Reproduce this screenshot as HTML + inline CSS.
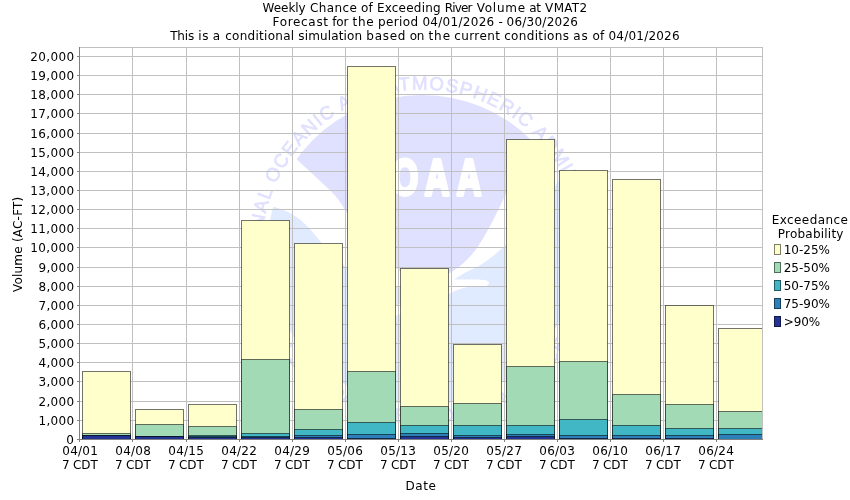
<!DOCTYPE html>
<html lang="en"><head><meta charset="utf-8"><title>Weekly Chance of Exceeding River Volume at VMAT2</title>
<style>html,body{margin:0;padding:0;background:#fff}body{width:850px;height:500px;overflow:hidden}svg{display:block}text{font-family:"DejaVu Sans","Liberation Sans",sans-serif;font-size:12px;fill:#000}</style></head><body>
<svg width="850" height="500" viewBox="0 0 850 500">
<rect width="850" height="500" fill="#fff"/>
<text y="11.7"><tspan x="262.50" textLength="43.23" lengthAdjust="spacing">Weekly</tspan> <tspan x="309.93" textLength="46.91" lengthAdjust="spacing">Chance</tspan> <tspan x="361.04" textLength="11.69" lengthAdjust="spacing">of</tspan> <tspan x="376.92" textLength="63.70" lengthAdjust="spacing">Exceeding</tspan> <tspan x="444.82" textLength="27.68" lengthAdjust="spacing">River</tspan> <tspan x="476.71" textLength="48.37" lengthAdjust="spacing">Volume</tspan> <tspan x="529.28" textLength="11.63" lengthAdjust="spacing">at</tspan> <tspan x="545.11" textLength="42.04" lengthAdjust="spacing">VMAT2</tspan></text>
<text y="25.7"><tspan x="272.62" textLength="55.40" lengthAdjust="spacing">Forecast</tspan> <tspan x="332.22" textLength="16.15" lengthAdjust="spacing">for</tspan> <tspan x="352.58" textLength="21.13" lengthAdjust="spacing">the</tspan> <tspan x="377.91" textLength="40.30" lengthAdjust="spacing">period</tspan> <tspan x="422.41" textLength="71.80" lengthAdjust="spacing">04/01/2026</tspan> <tspan x="498.41" textLength="4.33" lengthAdjust="spacing">-</tspan> <tspan x="506.51" textLength="71.46" lengthAdjust="spacing">06/30/2026</tspan></text>
<text y="39.7"><tspan x="170.24" textLength="23.93" lengthAdjust="spacing">This</tspan> <tspan x="198.37" textLength="10.21" lengthAdjust="spacing">is</tspan> <tspan x="212.78" textLength="7.35" lengthAdjust="spacing">a</tspan> <tspan x="225.24" textLength="68.91" lengthAdjust="spacing">conditional</tspan> <tspan x="298.35" textLength="63.76" lengthAdjust="spacing">simulation</tspan> <tspan x="366.31" textLength="39.13" lengthAdjust="spacing">based</tspan> <tspan x="409.64" textLength="14.64" lengthAdjust="spacing">on</tspan> <tspan x="428.48" textLength="21.56" lengthAdjust="spacing">the</tspan> <tspan x="454.24" textLength="45.70" lengthAdjust="spacing">current</tspan> <tspan x="504.14" textLength="64.84" lengthAdjust="spacing">conditions</tspan> <tspan x="573.18" textLength="14.61" lengthAdjust="spacing">as</tspan> <tspan x="592.54" textLength="11.77" lengthAdjust="spacing">of</tspan> <tspan x="608.51" textLength="71.06" lengthAdjust="spacing">04/01/2026</tspan></text>
<defs><clipPath id="pc"><rect x="80" y="48" width="682" height="391"/></clipPath><clipPath id="bc"><rect x="79" y="47" width="683" height="393"/></clipPath>
<clipPath id="disc"><circle cx="422" cy="250" r="155"/></clipPath>
<path id="ringTop" d="M 421.99 410.4 A 160.4 160.4 0 1 1 422.01 410.4" fill="none"/>
<path id="ringBot" d="M 248.5 250 A 173.5 173.5 0 0 0 595.5 250" fill="none"/>
</defs>
<g clip-path="url(#pc)">
<g clip-path="url(#disc)">
<path d="M 250 119.5 L 298.5 161 C 312 173.5 326 186 335 195.5 C 339 200 342 205 344.5 209 C 358 229 378 251 397 268.5 C 412 283 432 285 453 271 C 462 265 470 258 478 246.5 C 488 232 497 212 504 198 C 515 176 525 160 540 132 L 600 60 L 250 60 Z" fill="#e0e0ff"/>
<path d="M 250 200 L 273 206.5 C 285 210 293 214 300 219.6 C 308 226 315 235 321.6 243 C 329 252 337 260 345 266 C 361 277 380 284 397 286.5 C 412 288.5 428 288 440 286.5 C 428 293 412 300 397 305 C 388 308 379 313 371 319 C 380 318 389 316.5 397 315 C 415 311 437 299 455 291 C 462 288 466 287.5 470 286.8 C 480 287 489 287 489 283 C 489 279.5 480 279.5 470 279.5 L 454 279.5 C 462 274 470 270 478 266.5 C 486 262 496 254 504 246.5 C 525 226 545 200 562 176 L 600 176 L 600 420 L 250 420 Z" fill="#e1ebff"/>
</g>
<text transform="translate(0 194.8) scale(0.673 1)" x="554.23 601.78 649.33 696.88" text-anchor="middle" style="font-family:'Liberation Sans',sans-serif;font-weight:bold;font-size:50.5px;fill:#fff;stroke:#fff;stroke-width:4;stroke-linejoin:round">NOAA</text>
<text transform="rotate(0.9 422 250)" style="font-family:'Liberation Sans',sans-serif;font-size:18.8px;letter-spacing:1.26px;fill:#e0e0ff;stroke:#e0e0ff;stroke-width:0.6px"><textPath href="#ringTop" startOffset="50%" text-anchor="middle">NATIONAL OCEANIC AND ATMOSPHERIC ADMINISTRATION</textPath></text>
<text style="font-family:'Liberation Sans',sans-serif;font-size:18.8px;letter-spacing:1.18px;fill:#e0e0ff;stroke:#e0e0ff;stroke-width:0.6px"><textPath href="#ringBot" startOffset="50%" text-anchor="middle">U.S. DEPARTMENT OF COMMERCE</textPath></text>
</g>
<path d="M132.5 48V439M186.5 48V439M239.5 48V439M292.5 48V439M345.5 48V439M398.5 48V439M451.5 48V439M504.5 48V439M557.5 48V439M610.5 48V439M663.5 48V439M716.5 48V439M80 420.5H762M80 401.5H762M80 381.5H762M80 362.5H762M80 343.5H762M80 324.5H762M80 305.5H762M80 286.5H762M80 267.5H762M80 247.5H762M80 228.5H762M80 209.5H762M80 190.5H762M80 171.5H762M80 152.5H762M80 133.5H762M80 113.5H762M80 94.5H762M80 75.5H762M80 56.5H762" stroke="#c0c0c0" stroke-width="1" fill="none"/>
<path d="M79 47.5H763M762.5 47V440" stroke="#c0c0c0" stroke-width="1" fill="none"/>
<g clip-path="url(#bc)">
<rect x="82.5" y="371.5" width="48" height="68" fill="#ffffcc" stroke="#000" stroke-opacity="0.55" stroke-width="1"/>
<rect x="82.5" y="433.5" width="48" height="6" fill="#a1dab4" stroke="#000" stroke-opacity="0.55" stroke-width="1"/>
<rect x="82.5" y="435.5" width="48" height="4" fill="#41b6c4" stroke="#000" stroke-opacity="0.55" stroke-width="1"/>
<rect x="82.5" y="435.5" width="48" height="4" fill="#2c7fb8" stroke="#000" stroke-opacity="0.55" stroke-width="1"/>
<rect x="82.5" y="435.5" width="48" height="4" fill="#253494" stroke="#000" stroke-opacity="0.55" stroke-width="1"/>
<rect x="135.5" y="409.5" width="48" height="30" fill="#ffffcc" stroke="#000" stroke-opacity="0.55" stroke-width="1"/>
<rect x="135.5" y="424.5" width="48" height="15" fill="#a1dab4" stroke="#000" stroke-opacity="0.55" stroke-width="1"/>
<rect x="135.5" y="436.5" width="48" height="3" fill="#41b6c4" stroke="#000" stroke-opacity="0.55" stroke-width="1"/>
<rect x="135.5" y="436.5" width="48" height="3" fill="#2c7fb8" stroke="#000" stroke-opacity="0.55" stroke-width="1"/>
<rect x="135.5" y="436.5" width="48" height="3" fill="#253494" stroke="#000" stroke-opacity="0.55" stroke-width="1"/>
<rect x="188.5" y="404.5" width="48" height="35" fill="#ffffcc" stroke="#000" stroke-opacity="0.55" stroke-width="1"/>
<rect x="188.5" y="426.5" width="48" height="13" fill="#a1dab4" stroke="#000" stroke-opacity="0.55" stroke-width="1"/>
<rect x="188.5" y="435.5" width="48" height="4" fill="#41b6c4" stroke="#000" stroke-opacity="0.55" stroke-width="1"/>
<rect x="188.5" y="436.5" width="48" height="3" fill="#2c7fb8" stroke="#000" stroke-opacity="0.55" stroke-width="1"/>
<rect x="188.5" y="437.5" width="48" height="2" fill="#253494" stroke="#000" stroke-opacity="0.55" stroke-width="1"/>
<rect x="241.5" y="220.5" width="48" height="219" fill="#ffffcc" stroke="#000" stroke-opacity="0.55" stroke-width="1"/>
<rect x="241.5" y="359.5" width="48" height="80" fill="#a1dab4" stroke="#000" stroke-opacity="0.55" stroke-width="1"/>
<rect x="241.5" y="433.5" width="48" height="6" fill="#41b6c4" stroke="#000" stroke-opacity="0.55" stroke-width="1"/>
<rect x="241.5" y="436.5" width="48" height="3" fill="#2c7fb8" stroke="#000" stroke-opacity="0.55" stroke-width="1"/>
<rect x="241.5" y="437.5" width="48" height="2" fill="#253494" stroke="#000" stroke-opacity="0.55" stroke-width="1"/>
<rect x="294.5" y="243.5" width="48" height="196" fill="#ffffcc" stroke="#000" stroke-opacity="0.55" stroke-width="1"/>
<rect x="294.5" y="409.5" width="48" height="30" fill="#a1dab4" stroke="#000" stroke-opacity="0.55" stroke-width="1"/>
<rect x="294.5" y="429.5" width="48" height="10" fill="#41b6c4" stroke="#000" stroke-opacity="0.55" stroke-width="1"/>
<rect x="294.5" y="435.5" width="48" height="4" fill="#2c7fb8" stroke="#000" stroke-opacity="0.55" stroke-width="1"/>
<rect x="294.5" y="437.5" width="48" height="2" fill="#253494" stroke="#000" stroke-opacity="0.55" stroke-width="1"/>
<rect x="347.5" y="66.5" width="48" height="373" fill="#ffffcc" stroke="#000" stroke-opacity="0.55" stroke-width="1"/>
<rect x="347.5" y="371.5" width="48" height="68" fill="#a1dab4" stroke="#000" stroke-opacity="0.55" stroke-width="1"/>
<rect x="347.5" y="422.5" width="48" height="17" fill="#41b6c4" stroke="#000" stroke-opacity="0.55" stroke-width="1"/>
<rect x="347.5" y="434.5" width="48" height="5" fill="#2c7fb8" stroke="#000" stroke-opacity="0.55" stroke-width="1"/>
<rect x="347.5" y="438.5" width="48" height="1" fill="#253494" stroke="#000" stroke-opacity="0.55" stroke-width="1"/>
<rect x="400.5" y="268.5" width="48" height="171" fill="#ffffcc" stroke="#000" stroke-opacity="0.55" stroke-width="1"/>
<rect x="400.5" y="406.5" width="48" height="33" fill="#a1dab4" stroke="#000" stroke-opacity="0.55" stroke-width="1"/>
<rect x="400.5" y="425.5" width="48" height="14" fill="#41b6c4" stroke="#000" stroke-opacity="0.55" stroke-width="1"/>
<rect x="400.5" y="433.5" width="48" height="6" fill="#2c7fb8" stroke="#000" stroke-opacity="0.55" stroke-width="1"/>
<rect x="400.5" y="436.5" width="48" height="3" fill="#253494" stroke="#000" stroke-opacity="0.55" stroke-width="1"/>
<rect x="453.5" y="344.5" width="48" height="95" fill="#ffffcc" stroke="#000" stroke-opacity="0.55" stroke-width="1"/>
<rect x="453.5" y="403.5" width="48" height="36" fill="#a1dab4" stroke="#000" stroke-opacity="0.55" stroke-width="1"/>
<rect x="453.5" y="425.5" width="48" height="14" fill="#41b6c4" stroke="#000" stroke-opacity="0.55" stroke-width="1"/>
<rect x="453.5" y="435.5" width="48" height="4" fill="#2c7fb8" stroke="#000" stroke-opacity="0.55" stroke-width="1"/>
<rect x="453.5" y="437.5" width="48" height="2" fill="#253494" stroke="#000" stroke-opacity="0.55" stroke-width="1"/>
<rect x="506.5" y="139.5" width="48" height="300" fill="#ffffcc" stroke="#000" stroke-opacity="0.55" stroke-width="1"/>
<rect x="506.5" y="366.5" width="48" height="73" fill="#a1dab4" stroke="#000" stroke-opacity="0.55" stroke-width="1"/>
<rect x="506.5" y="425.5" width="48" height="14" fill="#41b6c4" stroke="#000" stroke-opacity="0.55" stroke-width="1"/>
<rect x="506.5" y="434.5" width="48" height="5" fill="#2c7fb8" stroke="#000" stroke-opacity="0.55" stroke-width="1"/>
<rect x="506.5" y="436.5" width="48" height="3" fill="#253494" stroke="#000" stroke-opacity="0.55" stroke-width="1"/>
<rect x="559.5" y="170.5" width="48" height="269" fill="#ffffcc" stroke="#000" stroke-opacity="0.55" stroke-width="1"/>
<rect x="559.5" y="361.5" width="48" height="78" fill="#a1dab4" stroke="#000" stroke-opacity="0.55" stroke-width="1"/>
<rect x="559.5" y="419.5" width="48" height="20" fill="#41b6c4" stroke="#000" stroke-opacity="0.55" stroke-width="1"/>
<rect x="559.5" y="435.5" width="48" height="4" fill="#2c7fb8" stroke="#000" stroke-opacity="0.55" stroke-width="1"/>
<rect x="559.5" y="438.5" width="48" height="1" fill="#253494" stroke="#000" stroke-opacity="0.55" stroke-width="1"/>
<rect x="612.5" y="179.5" width="48" height="260" fill="#ffffcc" stroke="#000" stroke-opacity="0.55" stroke-width="1"/>
<rect x="612.5" y="394.5" width="48" height="45" fill="#a1dab4" stroke="#000" stroke-opacity="0.55" stroke-width="1"/>
<rect x="612.5" y="425.5" width="48" height="14" fill="#41b6c4" stroke="#000" stroke-opacity="0.55" stroke-width="1"/>
<rect x="612.5" y="435.5" width="48" height="4" fill="#2c7fb8" stroke="#000" stroke-opacity="0.55" stroke-width="1"/>
<rect x="612.5" y="438.5" width="48" height="1" fill="#253494" stroke="#000" stroke-opacity="0.55" stroke-width="1"/>
<rect x="665.5" y="305.5" width="48" height="134" fill="#ffffcc" stroke="#000" stroke-opacity="0.55" stroke-width="1"/>
<rect x="665.5" y="404.5" width="48" height="35" fill="#a1dab4" stroke="#000" stroke-opacity="0.55" stroke-width="1"/>
<rect x="665.5" y="428.5" width="48" height="11" fill="#41b6c4" stroke="#000" stroke-opacity="0.55" stroke-width="1"/>
<rect x="665.5" y="435.5" width="48" height="4" fill="#2c7fb8" stroke="#000" stroke-opacity="0.55" stroke-width="1"/>
<rect x="665.5" y="438.5" width="48" height="1" fill="#253494" stroke="#000" stroke-opacity="0.55" stroke-width="1"/>
<rect x="718.5" y="328.5" width="49" height="111" fill="#ffffcc" stroke="#000" stroke-opacity="0.55" stroke-width="1"/>
<rect x="718.5" y="411.5" width="49" height="28" fill="#a1dab4" stroke="#000" stroke-opacity="0.55" stroke-width="1"/>
<rect x="718.5" y="428.5" width="49" height="11" fill="#41b6c4" stroke="#000" stroke-opacity="0.55" stroke-width="1"/>
<rect x="718.5" y="434.5" width="49" height="5" fill="#2c7fb8" stroke="#000" stroke-opacity="0.55" stroke-width="1"/>
</g>
<path d="M79.5 47V440M79 439.5H763M79.5 440V442M132.5 440V442M186.5 440V442M239.5 440V442M292.5 440V442M345.5 440V442M398.5 440V442M451.5 440V442M504.5 440V442M557.5 440V442M610.5 440V442M663.5 440V442M716.5 440V442M77 439.5H79M77 420.5H79M77 401.5H79M77 381.5H79M77 362.5H79M77 343.5H79M77 324.5H79M77 305.5H79M77 286.5H79M77 267.5H79M77 247.5H79M77 228.5H79M77 209.5H79M77 190.5H79M77 171.5H79M77 152.5H79M77 133.5H79M77 113.5H79M77 94.5H79M77 75.5H79M77 56.5H79" stroke="#808080" stroke-width="1" fill="none"/>
<text x="66.16" y="443.9" textLength="8.09" lengthAdjust="spacing">0</text>
<text x="38.41" y="424.9" textLength="35.84" lengthAdjust="spacing">1,000</text>
<text x="38.41" y="405.9" textLength="35.84" lengthAdjust="spacing">2,000</text>
<text x="38.41" y="385.9" textLength="35.84" lengthAdjust="spacing">3,000</text>
<text x="38.41" y="366.9" textLength="35.84" lengthAdjust="spacing">4,000</text>
<text x="38.41" y="347.9" textLength="35.84" lengthAdjust="spacing">5,000</text>
<text x="38.41" y="328.9" textLength="35.84" lengthAdjust="spacing">6,000</text>
<text x="38.41" y="309.9" textLength="35.84" lengthAdjust="spacing">7,000</text>
<text x="38.41" y="290.9" textLength="35.84" lengthAdjust="spacing">8,000</text>
<text x="38.41" y="271.9" textLength="35.84" lengthAdjust="spacing">9,000</text>
<text x="30.20" y="251.9" textLength="44.05" lengthAdjust="spacing">10,000</text>
<text x="30.20" y="232.9" textLength="44.05" lengthAdjust="spacing">11,000</text>
<text x="30.20" y="213.9" textLength="44.05" lengthAdjust="spacing">12,000</text>
<text x="30.20" y="194.9" textLength="44.05" lengthAdjust="spacing">13,000</text>
<text x="30.20" y="175.9" textLength="44.05" lengthAdjust="spacing">14,000</text>
<text x="30.20" y="156.9" textLength="44.05" lengthAdjust="spacing">15,000</text>
<text x="30.20" y="137.9" textLength="44.05" lengthAdjust="spacing">16,000</text>
<text x="30.20" y="117.9" textLength="44.05" lengthAdjust="spacing">17,000</text>
<text x="30.20" y="98.9" textLength="44.05" lengthAdjust="spacing">18,000</text>
<text x="30.20" y="79.9" textLength="44.05" lengthAdjust="spacing">19,000</text>
<text x="30.20" y="60.9" textLength="44.05" lengthAdjust="spacing">20,000</text>
<text x="62.37" y="455" textLength="35.4" lengthAdjust="spacing">04/01</text>
<text x="62.00" y="468.9" textLength="35.72" lengthAdjust="spacing">7 CDT</text>
<text x="115.37" y="455" textLength="35.4" lengthAdjust="spacing">04/08</text>
<text x="115.00" y="468.9" textLength="35.72" lengthAdjust="spacing">7 CDT</text>
<text x="168.37" y="455" textLength="35.4" lengthAdjust="spacing">04/15</text>
<text x="168.00" y="468.9" textLength="35.72" lengthAdjust="spacing">7 CDT</text>
<text x="221.37" y="455" textLength="35.4" lengthAdjust="spacing">04/22</text>
<text x="221.00" y="468.9" textLength="35.72" lengthAdjust="spacing">7 CDT</text>
<text x="274.37" y="455" textLength="35.4" lengthAdjust="spacing">04/29</text>
<text x="274.00" y="468.9" textLength="35.72" lengthAdjust="spacing">7 CDT</text>
<text x="327.37" y="455" textLength="35.4" lengthAdjust="spacing">05/06</text>
<text x="327.00" y="468.9" textLength="35.72" lengthAdjust="spacing">7 CDT</text>
<text x="380.37" y="455" textLength="35.4" lengthAdjust="spacing">05/13</text>
<text x="380.00" y="468.9" textLength="35.72" lengthAdjust="spacing">7 CDT</text>
<text x="433.37" y="455" textLength="35.4" lengthAdjust="spacing">05/20</text>
<text x="433.00" y="468.9" textLength="35.72" lengthAdjust="spacing">7 CDT</text>
<text x="486.37" y="455" textLength="35.4" lengthAdjust="spacing">05/27</text>
<text x="486.00" y="468.9" textLength="35.72" lengthAdjust="spacing">7 CDT</text>
<text x="539.37" y="455" textLength="35.4" lengthAdjust="spacing">06/03</text>
<text x="539.00" y="468.9" textLength="35.72" lengthAdjust="spacing">7 CDT</text>
<text x="592.37" y="455" textLength="35.4" lengthAdjust="spacing">06/10</text>
<text x="592.00" y="468.9" textLength="35.72" lengthAdjust="spacing">7 CDT</text>
<text x="645.37" y="455" textLength="35.4" lengthAdjust="spacing">06/17</text>
<text x="645.00" y="468.9" textLength="35.72" lengthAdjust="spacing">7 CDT</text>
<text x="698.37" y="455" textLength="35.4" lengthAdjust="spacing">06/24</text>
<text x="698.00" y="468.9" textLength="35.72" lengthAdjust="spacing">7 CDT</text>
<text x="405.6" y="489.8" textLength="30.27" lengthAdjust="spacing">Date</text>
<text transform="translate(22.3 292.0) rotate(-90)" textLength="95.28" lengthAdjust="spacing">Volume (AC-FT)</text>
<text x="771.8" y="223.8" textLength="75.98" lengthAdjust="spacing">Exceedance</text>
<text x="777.8" y="237.6" textLength="65.66" lengthAdjust="spacing">Probability</text>
<rect x="774" y="244" width="7" height="11" fill="#ffffcc"/><rect x="774.5" y="244.5" width="6" height="10" fill="none" stroke="#000" stroke-opacity="0.5" stroke-width="1"/>
<text x="783.70" y="253.7" textLength="46.30" lengthAdjust="spacing">10-25%</text>
<rect x="774" y="262" width="7" height="11" fill="#a1dab4"/><rect x="774.5" y="262.5" width="6" height="10" fill="none" stroke="#000" stroke-opacity="0.5" stroke-width="1"/>
<text x="783.70" y="271.7" textLength="46.30" lengthAdjust="spacing">25-50%</text>
<rect x="774" y="280" width="7" height="11" fill="#41b6c4"/><rect x="774.5" y="280.5" width="6" height="10" fill="none" stroke="#000" stroke-opacity="0.5" stroke-width="1"/>
<text x="783.70" y="289.7" textLength="46.30" lengthAdjust="spacing">50-75%</text>
<rect x="774" y="298" width="7" height="11" fill="#2c7fb8"/><rect x="774.5" y="298.5" width="6" height="10" fill="none" stroke="#000" stroke-opacity="0.5" stroke-width="1"/>
<text x="783.70" y="307.7" textLength="46.30" lengthAdjust="spacing">75-90%</text>
<rect x="774" y="316" width="7" height="11" fill="#253494"/><rect x="774.5" y="316.5" width="6" height="10" fill="none" stroke="#000" stroke-opacity="0.5" stroke-width="1"/>
<text x="783.70" y="325.7" textLength="36.40" lengthAdjust="spacing">&gt;90%</text>
</svg></body></html>
